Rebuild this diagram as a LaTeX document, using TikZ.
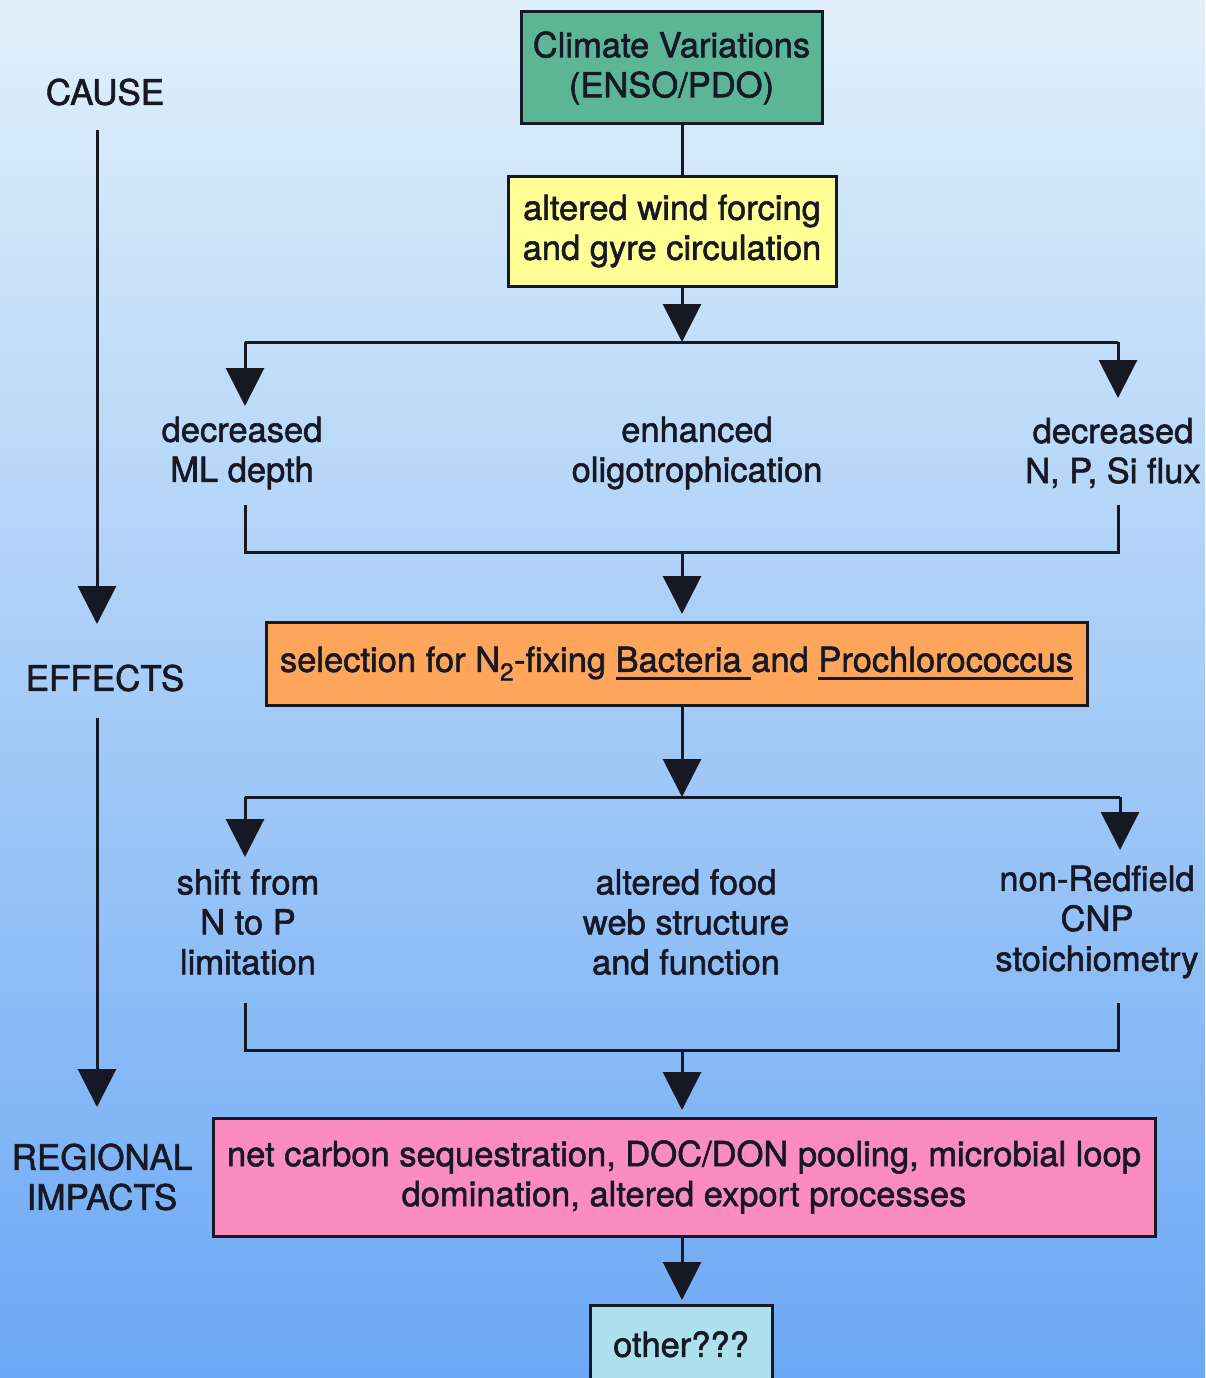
\documentclass[tikz,border=0pt]{standalone}
\usepackage{fontspec}
\setmainfont{TeX Gyre Heros}[FakeBold=1.6]
\usetikzlibrary{arrows.meta}
\definecolor{bgtop}{RGB}{224,240,250}
\definecolor{bgmid}{RGB}{172,210,249}
\definecolor{bgbot}{RGB}{108,168,245}
\definecolor{ink}{RGB}{22,24,36}
\definecolor{cteal}{RGB}{92,182,150}
\definecolor{cyel}{RGB}{255,255,150}
\definecolor{corange}{RGB}{255,166,92}
\definecolor{cpink}{RGB}{250,140,192}
\definecolor{ccyan}{RGB}{172,224,236}
\newcommand{\myuline}[1]{\setbox0\hbox{#1}\rlap{\raisebox{-8pt}{\rule{\wd0}{2.6pt}}}\box0}
\begin{document}
\begin{tikzpicture}[x=1pt,y=-1pt,
  txt/.style={font=\fontsize{34.5}{40}\selectfont, text=ink, align=center, inner sep=0pt},
  boxx/.style={txt, draw=ink, line width=3pt},
  conn/.style={draw=ink, line width=3pt},
  arr/.style={conn, -{Triangle[width=38pt,length=38pt]}},
  side/.style={txt, font=\fontsize{35}{40}\selectfont}]
\useasboundingbox (0,0) rectangle (1205,1378);
\shade[top color=bgtop, middle color=bgmid, bottom color=bgbot] (0,0) rectangle (1205,1378);
% column coordinates
\coordinate (mid) at (682,0);
% boxes
\node[boxx, fill=cteal, minimum width=301pt, minimum height=112pt] (clim) at (671.5,68) {Climate Variations\\(ENSO/PDO)};
\node[boxx, fill=cyel, minimum width=328pt, minimum height=110pt] (yel) at (672,231) {altered wind forcing\\and gyre circulation};
\node[boxx, fill=corange, minimum width=821pt, minimum height=83pt] (sel) at (676.5,663.5) {selection for N\textsubscript{2}-fixing \myuline{Bacteria\ }and \myuline{Prochlorococcus}};
\node[boxx, fill=cpink, minimum width=942pt, minimum height=118pt] (imp) at (684,1177) {net carbon sequestration, DOC/DON pooling, microbial loop\\domination, altered export processes};
\node[boxx, fill=ccyan, minimum width=182pt, minimum height=90pt] (oth) at (681,1350) {\raisebox{12pt}{other???}};
% effect texts
\node[txt] (ml) at (242,453) {decreased\\ML depth};
\node[txt] (olig) at (697,453) {enhanced\\oligotrophication};
\node[txt] (flux) at (1113,453) {decreased\\N, P, Si flux};
\node[txt] (shift) at (248,922) {shift from\\N to P\\limitation};
\node[txt] (food) at (686,922) {altered food\\web structure\\and function};
\node[txt] (redf) at (1097,922) {non-Redfield\\CNP\\stoichiometry};
% side labels
\node[side] (cause) at (105,92) {CAUSE};
\node[side] (eff) at (105,678) {EFFECTS};
\node[side] (reg) at (102,1177) {REGIONAL\\IMPACTS};
% junction coordinates
\coordinate (j1) at (682,342);
\coordinate (j1l) at (245,342);
\coordinate (j1r) at (1118,342);
\coordinate (t1l) at (245,406);
\coordinate (t1r) at (1118,398);
\coordinate (u1l) at (245,505);
\coordinate (u1r) at (1118,505);
\coordinate (k1l) at (245,552);
\coordinate (k1r) at (1118,552);
\coordinate (k1) at (682,552);
\coordinate (t1) at (682,614);
\coordinate (j2) at (682,797);
\coordinate (j2l) at (245,797);
\coordinate (j2r) at (1120,797);
\coordinate (t2l) at (245,857);
\coordinate (t2r) at (1120,850);
\coordinate (u2l) at (245,1003);
\coordinate (u2r) at (1118,1003);
\coordinate (k2l) at (245,1050);
\coordinate (k2r) at (1118,1050);
\coordinate (k2) at (682,1050);
\coordinate (t2) at (682,1110);
\coordinate (t3) at (682,1300);
% side arrows
\coordinate (c0) at (97,130);
\coordinate (c1) at (97,624);
\coordinate (e0) at (97,718);
\coordinate (e1) at (97,1107);
% connectors
\draw[conn] (clim.south -| mid) -- (yel.north -| mid);
\draw[arr] (yel.south -| mid) -- (j1);
\draw[conn] (j1l) -- (j1r);
\draw[arr] (j1l) -- (t1l);
\draw[arr] (j1r) -- (t1r);
\draw[conn] (u1l) -- (k1l) -- (k1r) -- (u1r);
\draw[arr] (k1) -- (t1);
\draw[arr] (sel.south -| mid) -- (j2);
\draw[conn] (j2l) -- (j2r);
\draw[arr] (j2l) -- (t2l);
\draw[arr] (j2r) -- (t2r);
\draw[conn] (u2l) -- (k2l) -- (k2r) -- (u2r);
\draw[arr] (k2) -- (t2);
\draw[arr] (imp.south -| mid) -- (t3);
\draw[arr] (c0) -- (c1);
\draw[arr] (e0) -- (e1);
\end{tikzpicture}
\end{document}
